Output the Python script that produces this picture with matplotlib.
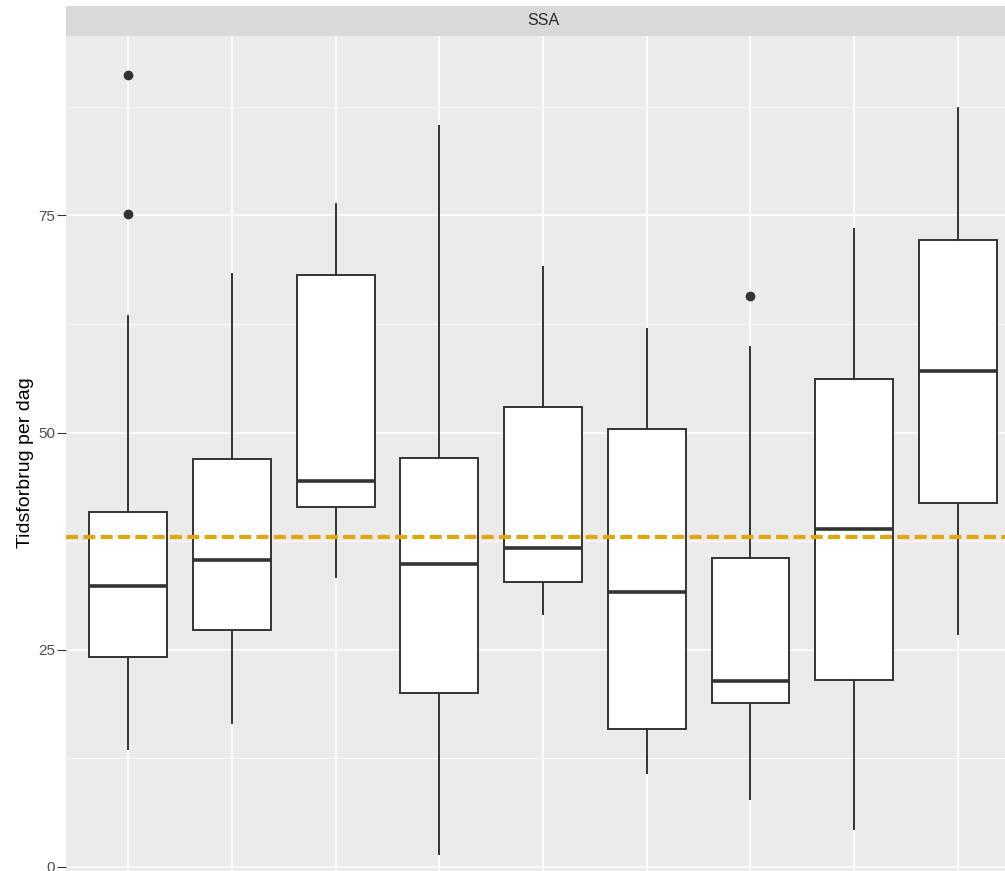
import matplotlib
matplotlib.use('Agg')
import matplotlib.pyplot as plt

plt.rcParams['font.family'] = ['Liberation Sans', 'DejaVu Sans']

facet = 'SSA'
y_label = 'Tidsforbrug per dag'
y_ticks = [0, 25, 50, 75]
y_minor = [12.5, 37.5, 62.5, 87.5]
reference = 38.0

lower_whisker = [13.6, 16.6, 33.4, 1.5, 29.1, 10.8, 7.8, 4.3, 26.8]
q1 = [24.2, 27.3, 41.4, 20.0, 32.8, 15.9, 18.9, 21.5, 41.9]
median = [32.3, 35.3, 44.4, 34.8, 36.7, 31.6, 21.4, 38.9, 57.1]
q3 = [40.9, 47.0, 68.1, 47.1, 52.9, 50.4, 35.6, 56.2, 72.2]
upper_whisker = [63.4, 68.2, 76.3, 85.3, 69.1, 61.9, 59.8, 73.4, 87.4]
outliers = [[75.2, 91.2], [], [], [], [], [], [65.7], [], []]

stats = []
for i in range(len(median)):
    stats.append({'whislo': lower_whisker[i], 'q1': q1[i], 'med': median[i],
                  'q3': q3[i], 'whishi': upper_whisker[i], 'fliers': outliers[i]})

W, H = 1005, 871
fig = plt.figure(figsize=(W / 100, H / 100), dpi=100)
fig.patch.set_facecolor('white')

left = 66 / W
panel_top = 35.7
ax = fig.add_axes([left, 0, 1 - left, (H - panel_top) / H])
ax.set_facecolor('#EBEBEB')

positions = list(range(1, len(median) + 1))
ax.bxp(stats, positions=positions, widths=0.75, showcaps=False, patch_artist=True,
       boxprops=dict(facecolor='white', edgecolor='#333333', linewidth=1.4),
       whiskerprops=dict(color='#333333', linewidth=1.4),
       medianprops=dict(color='#333333', linewidth=2.6, solid_capstyle='butt'),
       flierprops=dict(marker='o', markerfacecolor='#333333', markeredgecolor='#333333',
                       markersize=6, linestyle='none'),
       zorder=2)

ax.axhline(reference, color='#E8A600', linewidth=2.9, dashes=(3, 1.3), zorder=3)

ax.set_xlim(0.4, 9.454)
ax.set_ylim(-0.5, 95.7)
ax.set_xticks(positions)
ax.set_xticklabels([])
ax.tick_params(axis='x', length=0)
ax.set_yticks(y_ticks)
ax.set_yticks(y_minor, minor=True)
ax.tick_params(axis='y', which='major', labelsize=11, labelcolor='#4D4D4D',
               length=6.2, width=0.8, color='#333333', pad=1.5)
ax.tick_params(axis='y', which='minor', length=0)
ax.grid(which='major', color='white', linewidth=1.2, zorder=0)
ax.grid(which='minor', axis='y', color='white', linewidth=0.6, zorder=0)
ax.set_axisbelow(True)
for s in ax.spines.values():
    s.set_visible(False)

# facet strip
strip = fig.add_axes([left, (H - panel_top) / H, 1 - left, 30 / H])
strip.set_facecolor('#D9D9D9')
strip.set_xlim(0.4, 9.454)
strip.set_ylim(0, 1)
strip.set_xticks([])
strip.set_yticks([])
for s in strip.spines.values():
    s.set_visible(False)
strip.text(5, 0.5, facet, ha='center', va='center', fontsize=11.5, color='#2B2B2B')

fig.text(25 / W, 1 - 463 / H, y_label, rotation=90, ha='center', va='center',
         fontsize=14, color='black')

fig.savefig('out.png', dpi=100)
